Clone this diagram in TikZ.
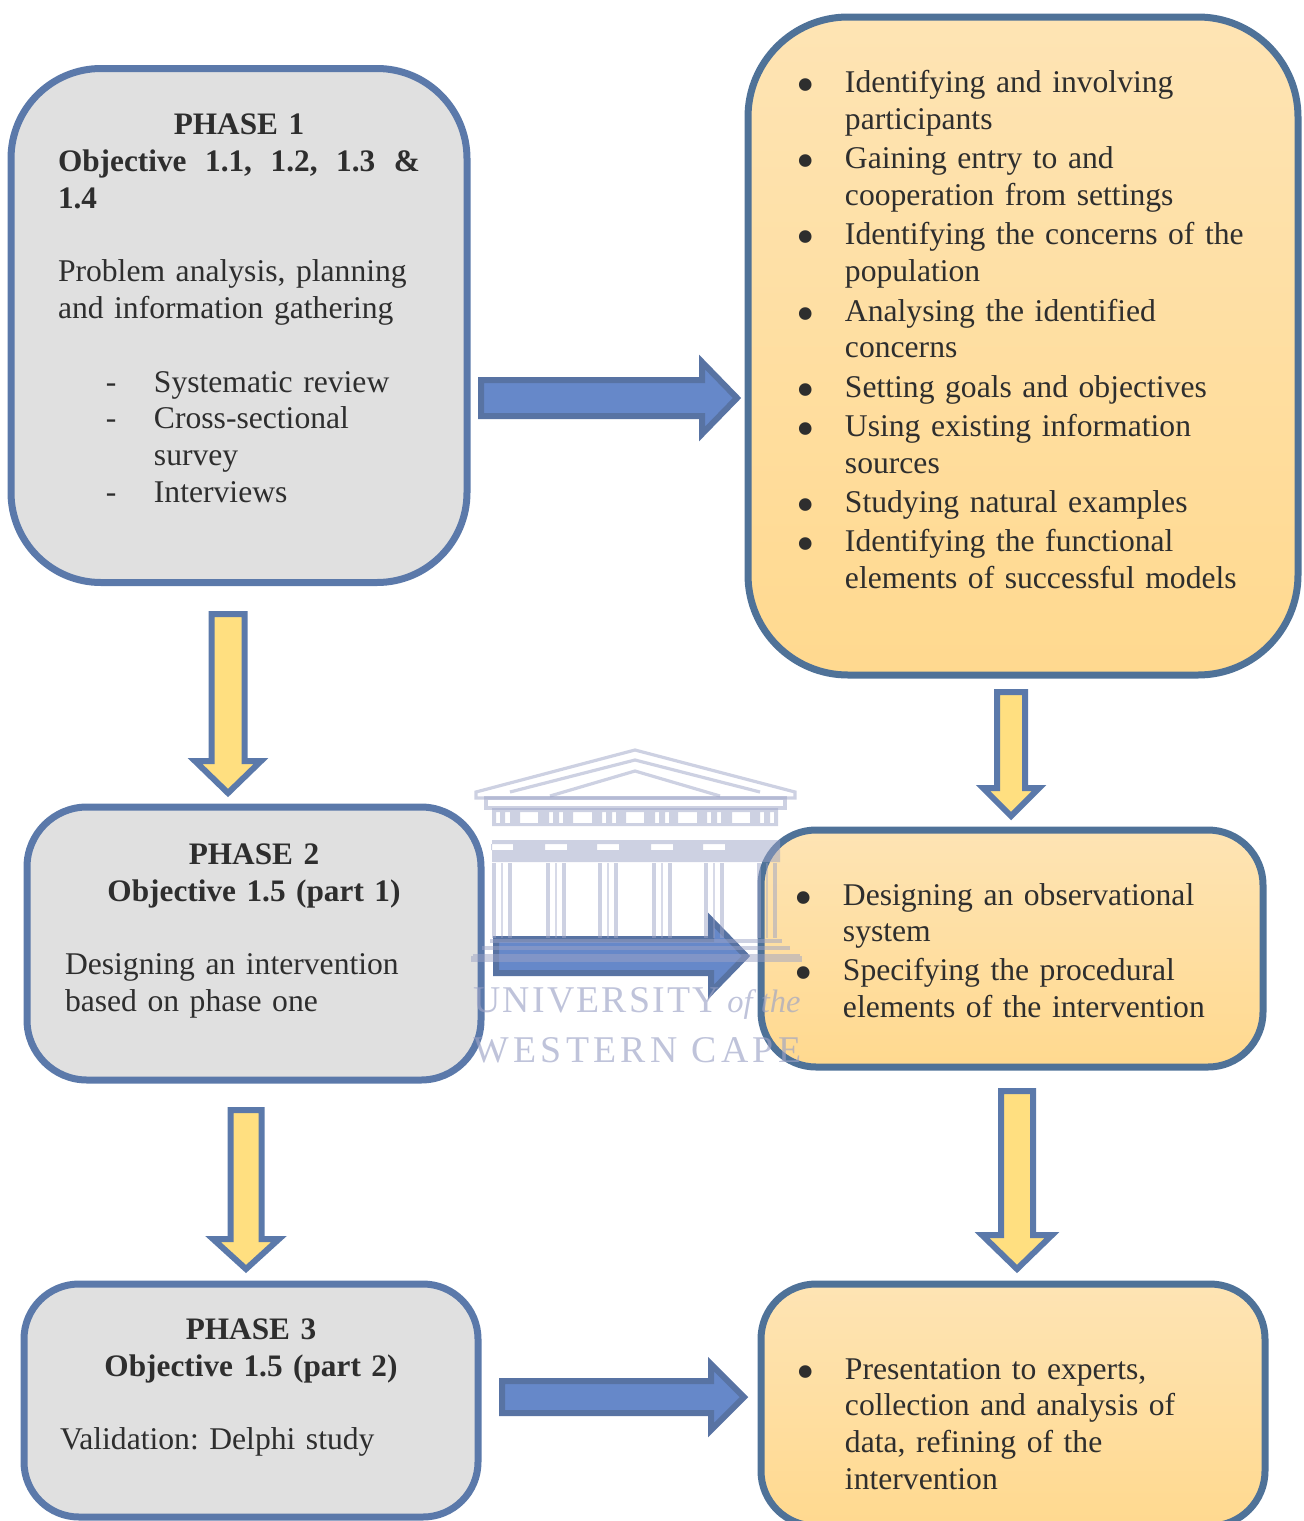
\documentclass[tikz,border=0pt]{standalone}
\usepackage{fontspec}
\setmainfont{Liberation Serif}
\usetikzlibrary{calc}
\definecolor{greyfill}{HTML}{E0E0E0}
\definecolor{greyline}{HTML}{5B79AA}
\definecolor{orangetop}{HTML}{FEE4B4}
\definecolor{orangebot}{HTML}{FFD98F}
\definecolor{orangeline}{HTML}{4F7298}
\definecolor{bluefill}{HTML}{6688C9}
\definecolor{blueline}{HTML}{5873A3}
\definecolor{yellowfill}{HTML}{FFDF80}
\definecolor{inkcol}{HTML}{2E2E2E}
\definecolor{crestcol}{HTML}{9CA3C6}
\def\px{0.02cm}
\def\rind{0cm}
\newcommand{\hd}[1]{\textbf{\fontsize{17.8}{20.95}\selectfont #1}}
\newcommand{\ctr}[1]{\makebox[\hsize]{#1}}
\newcommand{\dashitem}[1]{\hspace*{.96cm}\makebox[.96cm][l]{-}#1}
\newcommand{\bitem}{\hspace*{\rind}\llap{\raisebox{-.2cm}[0pt][0pt]{\fontsize{30}{20.95}\selectfont\textbullet}\hspace{.6cm}}}
\newcommand{\cont}{\hspace*{\rind}}
\tikzset{
  greybox/.style={draw=greyline,fill=greyfill,line width=7*\px,rounded corners=#1,align=left,text=inkcol},
  orangebox/.style={draw=orangeline,top color=orangetop,bottom color=orangebot,line width=7*\px,rounded corners=#1,align=left,text=inkcol,inner xsep=5*\px},
  blockarrow/.style n args={3}{line width=6*\px,line join=miter,to path={
    -- ($(\tikztostart)!#1*\px!90:(\tikztotarget)$)
    -- ($(\tikztotarget)!#3*\px!(\tikztostart)!#1*\px!-90:(\tikztostart)$)
    -- ($(\tikztotarget)!#3*\px!(\tikztostart)!#2*\px!-90:(\tikztostart)$)
    -- (\tikztotarget)
    -- ($(\tikztotarget)!#3*\px!(\tikztostart)!#2*\px!90:(\tikztostart)$)
    -- ($(\tikztotarget)!#3*\px!(\tikztostart)!#1*\px!90:(\tikztostart)$)
    -- ($(\tikztostart)!#1*\px!-90:(\tikztotarget)$) -- cycle}},
  bluearrow/.style={draw=blueline,fill=bluefill},
  yellowarrow/.style={draw=greyline,fill=yellowfill},
  crest/.style={draw=crestcol,line width=3.2*\px,draw opacity=.5},
  crestthin/.style={draw=crestcol,line width=2*\px,draw opacity=.4},
  crestfill/.style={fill=crestcol,fill opacity=.5},
  cresttext/.style={text=crestcol,text opacity=.65,inner sep=0pt,anchor=base west}
}
\begin{document}
\begin{tikzpicture}[x=\px,y=-\px,font=\fontsize{18}{20.95}\selectfont]
\useasboundingbox (0,0) rectangle (1304,1521);
% left column
\node[greybox=90*\px,inner xsep=47*\px,text width=362*\px,minimum height=514*\px] (phaseone) at (239,325.5) {%
\ctr{\hd{PHASE 1}}\\
\hd{\makebox[\hsize][s]{Objective\hfill 1.1,\hfill 1.2,\hfill 1.3\hfill \&}}\\
\hd{1.4}\\
\mbox{}\\
Problem analysis, planning\\
and information gathering\\
\mbox{}\\
\dashitem{Systematic review}\\
\dashitem{Cross-sectional}\\
\hspace*{1.92cm}survey\\
\dashitem{Interviews}\\[-.04cm]
\mbox{}};
\node[greybox=60*\px,inner xsep=38*\px,text width=378*\px,minimum height=273*\px] (phasetwo) at (254,943.5) {%
\ctr{\hd{PHASE 2}}\\
\ctr{\hd{Objective 1.5 (part 1)}}\\
\mbox{}\\
Designing an intervention\\
based on phase one\\[-.1cm]
\mbox{}};
\node[greybox=55*\px,inner xsep=36*\px,text width=382*\px,minimum height=233*\px] (phasethree) at (251,1400.5) {%
\ctr{\hd{PHASE 3}}\\
\ctr{\hd{Objective 1.5 (part 2)}}\\
\mbox{}\\
Validation:\ Delphi study\\[-.08cm]
\mbox{}};
% right column
\node[orangebox=100*\px,text width=540*\px,minimum height=658*\px] (stepsone) at (1023,346) {\def\rind{1.84cm}%
\bitem Identifying and involving\\
\cont participants\\[.05cm]
\bitem Gaining entry to and\\
\cont cooperation from settings\\[.05cm]
\bitem Identifying the concerns of the\\
\cont population\\[.05cm]
\bitem Analysing the identified\\
\cont concerns\\[.05cm]
\bitem Setting goals and objectives\\[.05cm]
\bitem Using existing information\\
\cont sources\\[.05cm]
\bitem Studying natural examples\\[.05cm]
\bitem Identifying the functional\\
\cont elements of successful models\\[-.08cm]
\mbox{}};
\node[orangebox=55*\px,text width=492*\px,minimum height=237*\px] (stepstwo) at (1012,948.5) {\def\rind{1.54cm}%
\rule{0pt}{.52cm}\bitem Designing an observational\\
\cont system\\[.04cm]
\bitem Specifying the procedural\\
\cont elements of the intervention};
\node[orangebox=55*\px,text width=494*\px,minimum height=242*\px] (stepsthree) at (1013,1405) {\def\rind{1.58cm}%
\mbox{}\\[.44cm]
\bitem Presentation to experts,\\
\cont collection and analysis of\\
\cont data, refining of the\\
\cont intervention};
% arrow ends
\coordinate (onetail) at (481,398); \coordinate (onetip) at (737,398);
\coordinate (twotail) at (496,956); \coordinate (twotip) at (746,956);
\coordinate (threetail) at (502,1397); \coordinate (threetip) at (744,1397);
\coordinate (downatail) at (228,614); \coordinate (downatip) at (228,793);
\coordinate (downbtail) at (246,1110); \coordinate (downbtip) at (246,1269);
\coordinate (downctail) at (1011,692); \coordinate (downctip) at (1011,816);
\coordinate (downdtail) at (1017,1091); \coordinate (downdtip) at (1017,1269);
\draw[bluearrow,blockarrow={18}{36}{35}] (onetail) to (onetip);
\draw[bluearrow,blockarrow={17}{36}{35}] (twotail) to (twotip);
\draw[bluearrow,blockarrow={16}{33}{33}] (threetail) to (threetip);
\draw[yellowarrow,blockarrow={16.5}{33}{32}] (downatail) to (downatip);
\draw[yellowarrow,blockarrow={15.5}{33}{30}] (downbtail) to (downbtip);
\draw[yellowarrow,blockarrow={14}{28}{28}] (downctail) to (downctip);
\draw[yellowarrow,blockarrow={16}{35}{34}] (downdtail) to (downdtip);
% crest over everything
\draw[crest] (476,792)--(635,750)--(795,792)--(795,798)--(476,798)--cycle;
\draw[crest] (510,792)--(635,760)--(760,792);
\draw[crest] (550,796)--(635,771)--(720,796);
\draw[crest] (486,798) rectangle (785,808);
\fill[crestfill,even odd rule] (492,808) rectangle (778,826)
  (520,812) rectangle (538,823) (573,812) rectangle (592,823) (626,812) rectangle (644,823)
  (678,812) rectangle (697,823) (732,812) rectangle (750,823)
  (496,812) rectangle (500,823) (505,812) rectangle (510,823) (549,812) rectangle (553,823)
  (559,812) rectangle (563,823) (602,812) rectangle (606,823) (612,812) rectangle (616,823)
  (655,812) rectangle (659,823) (665,812) rectangle (669,823) (707,812) rectangle (711,823)
  (717,812) rectangle (721,823) (760,812) rectangle (764,823) (770,812) rectangle (774,823);
\fill[crestfill,even odd rule] (492,840) rectangle (780,862)
  (491,844) rectangle (513,850) (545,844) rectangle (567,850) (597,844) rectangle (619,850)
  (651,844) rectangle (673,850) (703,844) rectangle (725,850);
\foreach \c in {502,556,608,662,714,767}{
  \draw[crest] (\c-8,863)--(\c-8,938) (\c+8,863)--(\c+8,938);
  \draw[crestthin] (\c,863)--(\c,938);
}
\draw[crest] (490,941)--(782,941) (482,948)--(790,948) (473,956)--(800,956) (473,956)--(473,960)--(800,960)--(800,956);
\node[cresttext,font=\fontsize{21.5}{24}\selectfont\addfontfeature{LetterSpace=5.8}] (crestname) at (473,1012) {UNIVERSITY};
\node[cresttext,font=\fontsize{18.5}{24}\selectfont\itshape] (crestof) at (727,1012) {of the};
\node[cresttext,font=\fontsize{21.5}{24}\selectfont\addfontfeature{LetterSpace=11.5}] (crestcape) at (473,1062) {WESTERN CAPE};
\end{tikzpicture}
\end{document}
